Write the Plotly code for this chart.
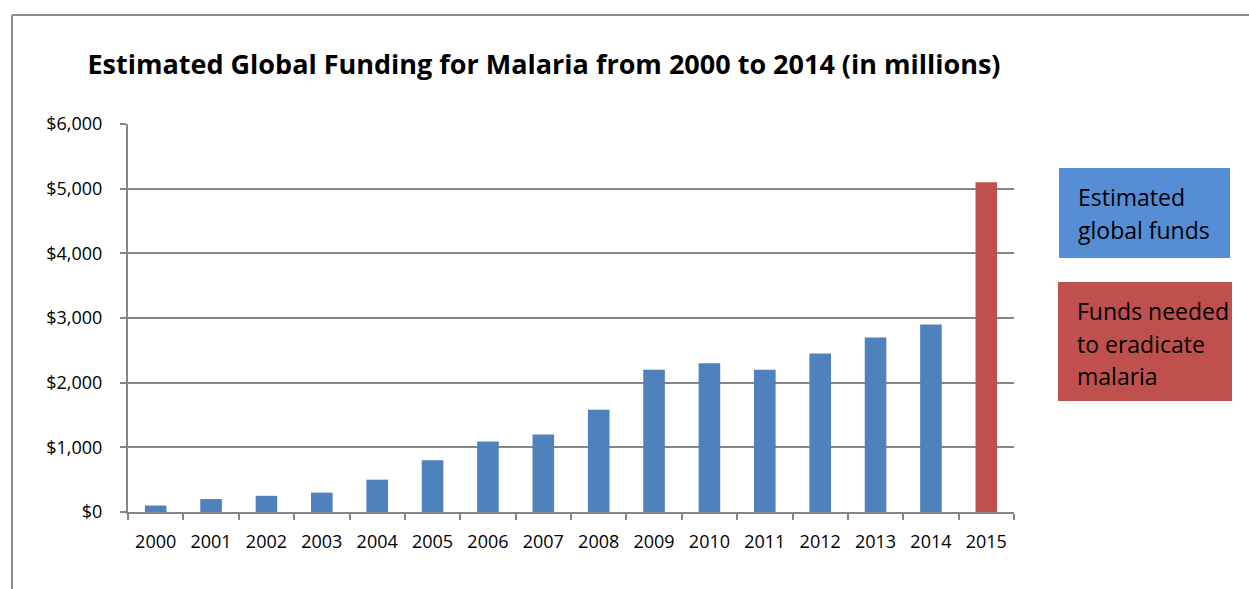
import plotly.graph_objects as go

years = [str(y) for y in range(2000, 2016)]
funding = [100, 200, 250, 300, 500, 800, 1090, 1200, 1580, 2200, 2300, 2200, 2450, 2700, 2900, 5100]
series_kind = ["estimated"] * 15 + ["needed"]

title_text = "Estimated Global Funding for Malaria from 2000 to 2014 (in millions)"
legend_labels = {"estimated": ["Estimated", "global funds"],
                 "needed": ["Funds needed", "to eradicate", "malaria"]}
bar_colors = {"estimated": "#4F81BD", "needed": "#C0504D"}
box_colors = {"estimated": "#558ED5", "needed": "#C0504D"}
y_ticks = [0, 1000, 2000, 3000, 4000, 5000, 6000]
y_tick_labels = ["$0", "$1,000", "$2,000", "$3,000", "$4,000", "$5,000", "$6,000"]

FONT = "Open Sans"
GRID = "#868686"

fig = go.Figure()
fig.add_trace(go.Bar(
    x=years, y=funding,
    marker=dict(color=[bar_colors[k] for k in series_kind], line=dict(width=0)),
    showlegend=False,
))

fig.update_layout(
    width=1249, height=589,
    margin=dict(l=128, r=235, t=124, b=77),
    paper_bgcolor="white", plot_bgcolor="white",
    bargap=0.61,
    font=dict(family=FONT, size=18, color="black"),
    title=dict(text="<b>" + title_text + "</b>", x=544 / 1249, xanchor="center",
               y=1 - 65 / 589, yanchor="middle",
               font=dict(family=FONT, size=27, color="black")),
)
fig.update_xaxes(type="category", showgrid=False, showline=True, linecolor=GRID, linewidth=2,
                 ticks="outside", tickson="boundaries", ticklen=6, tickcolor=GRID, tickwidth=2,
                 ticklabelstandoff=12,
                 tickfont=dict(family=FONT, size=18, color="black"))
fig.update_yaxes(range=[0, 6000], tickvals=y_ticks, ticktext=y_tick_labels,
                 showgrid=True, gridcolor=GRID, gridwidth=2, zeroline=False,
                 showline=True, linecolor=GRID, linewidth=2,
                 ticks="outside", ticklen=6, tickcolor=GRID, tickwidth=2,
                 ticklabelstandoff=14,
                 tickfont=dict(family=FONT, size=18, color="black"))

def px_x(px):
    return (px - 128) / 886

def px_y(py):
    return (512 - py) / 388

# legend boxes (x0, y0, x1, y1, text left, first line centre)
boxes = [("estimated", 1059, 168, 1230, 258, 1076, 197),
         ("needed", 1058, 282, 1232, 401, 1075, 311)]
LINE_STEP = 32.5
for key, x0, y0, x1, y1, tx, ty in boxes:
    fig.add_shape(type="rect", xref="paper", yref="paper",
                  x0=px_x(x0), x1=px_x(x1), y0=px_y(y1), y1=px_y(y0),
                  fillcolor=box_colors[key], line=dict(width=0), layer="below")
    for i, line in enumerate(legend_labels[key]):
        fig.add_annotation(xref="paper", yref="paper", x=px_x(tx), y=px_y(ty + i * LINE_STEP),
                           xanchor="left", yanchor="middle", align="left", showarrow=False,
                           text=line, font=dict(family=FONT, size=23, color="black"))

# chart frame (left and top edges)
fig.add_shape(type="line", xref="paper", yref="paper", x0=px_x(12), x1=px_x(12),
              y0=px_y(15), y1=px_y(600), line=dict(color="#8C8C8C", width=2))
fig.add_shape(type="line", xref="paper", yref="paper", x0=px_x(12), x1=px_x(1260),
              y0=px_y(15), y1=px_y(15), line=dict(color="#8C8C8C", width=2))

fig.write_html("out.html", config={"displayModeBar": False},
               post_script="document.body.style.margin='0';")
